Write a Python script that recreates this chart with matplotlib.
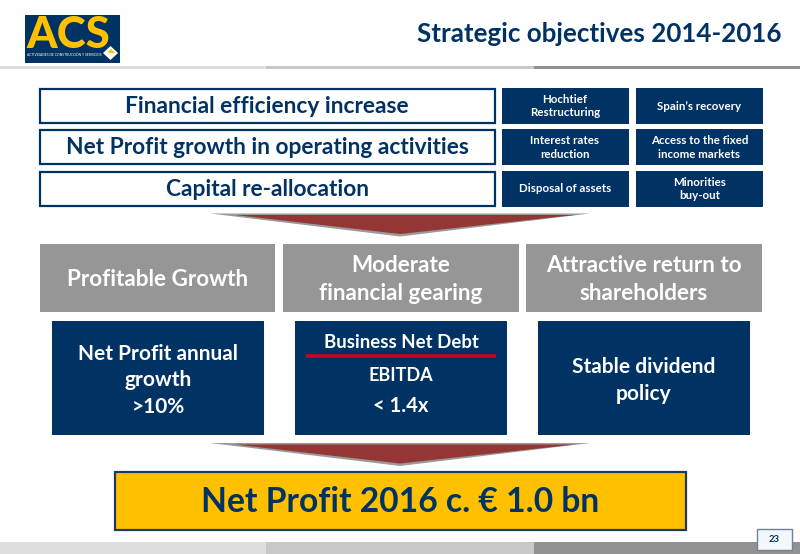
import matplotlib
matplotlib.use("Agg")
import matplotlib.pyplot as plt
from matplotlib.patches import Rectangle, Polygon

NAVY = "#003263"
GREY = "#969696"
YELLOW = "#FFC000"
RED = "#943634"
FONT = "Lato"

title = "Strategic objectives 2014-2016"
logo_name = "ACS"
logo_sub = "ACTIVIDADES DE CONSTRUCCIÓN Y SERVICIOS"
drivers = ["Financial efficiency increase",
           "Net Profit growth in operating activities",
           "Capital re-allocation"]
levers_a = ["Hochtief\nRestructuring", "Interest rates\nreduction", "Disposal of assets"]
levers_b = ["Spain’s recovery", "Access to the fixed\nincome markets", "Minorities\nbuy-out"]
pillars = ["Profitable Growth", "Moderate\nfinancial gearing", "Attractive return to\nshareholders"]
targets = ["Net Profit annual\ngrowth\n>10%", None, "Stable dividend\npolicy"]
ratio_top = "Business Net Debt"
ratio_bottom = "EBITDA"
ratio_value = "< 1.4x"
goal = "Net Profit 2016 c. € 1.0 bn"
page = "23"

fig = plt.figure(figsize=(8.0, 5.54), dpi=100, facecolor="white")
ax = fig.add_axes([0, 0, 1, 1])
ax.set_xlim(0, 800)
ax.set_ylim(554, 0)
ax.axis("off")


def box(x0, y0, x1, y1, fc, ec="none", lw=0, z=2):
    ax.add_patch(Rectangle((x0, y0), x1 - x0, y1 - y0, fc=fc, ec=ec, lw=lw, zorder=z))


def label(x, y, s, size, color=NAVY, ls=1.2, **kw):
    ax.text(x, y, s, fontsize=size, color=color, ha="center", va="center",
            family=FONT, weight="bold", linespacing=ls, zorder=5, **kw)


def arrow(x0, x1, y0, y1):
    xm = (x0 + x1) / 2
    ax.add_patch(Polygon([(x0, y0), (x1, y0), (xm, y1 + 1.5)], closed=True, fc="#9a9a9a", ec="none", zorder=2))
    ax.add_patch(Polygon([(x0 + 25, y0 + 1.5), (x1 - 15, y0 + 1.5), (xm, y1 - 1)], closed=True, fc=RED, ec="none", zorder=3))


# header and footer bands
for yy0, yy1 in [(65.5, 69), (542, 554)]:
    for xa, xb, col in [(0, 266, "#DEDEDE"), (266, 534, "#C8C8C8"), (534, 800, "#919191")]:
        box(xa, yy0, xb, yy1, col, z=1)

# logo
box(25, 15, 120, 62.5, NAVY)
ax.text(68.5, 34.5, logo_name, fontsize=31.5, color=YELLOW, ha="center", va="center",
        family=FONT, weight="black", zorder=5)
ax.text(64.5, 55, logo_sub, fontsize=2.45, color="white", ha="center", va="center", family=FONT, zorder=5)
ax.add_patch(Polygon([(110.5, 46), (118, 53), (110.5, 60), (103, 53)], closed=True, fc="white", ec="none", zorder=4))
ax.add_patch(Polygon([(108, 52), (111, 49), (115.5, 53), (110, 53)], closed=True, fc=YELLOW, ec="none", zorder=5))

label(599.5, 33.5, title, 18.7)

# driver rows
rows = [(88.5, 122.5), (130, 164), (171.5, 205.5)]
for (y0, y1), d, a, b in zip(rows, drivers, levers_a, levers_b):
    box(39.8, y0, 494.8, y1, "white", NAVY, 1.6)
    label(267, (y0 + y1) / 2 + 1, d, 16.4)
    box(501.5, y0 - 1, 628.5, y1 + 1, NAVY)
    box(636, y0 - 1, 763, y1 + 1, NAVY)
    label(565, (y0 + y1) / 2 + 0.5, a, 8.3, "white", ls=1.32)
    label(699.5, (y0 + y1) / 2 + 0.5, b, 8.3, "white", ls=1.32)

arrow(210, 590, 213.5, 235)

# pillars
for (x0, x1), p in zip([(40, 275), (283, 519), (526, 762)], pillars):
    box(x0, 244, x1, 312, GREY)
    label((x0 + x1) / 2, 279.5, p, 16.2, "white", ls=1.42)

# targets
for (x0, x1), t in zip([(52, 264), (295, 507), (538, 750)], targets):
    box(x0, 321, x1, 435, NAVY)
    if t is not None:
        label((x0 + x1) / 2, 380.5, t, 15, "white", ls=1.42)
label(401, 342, ratio_top, 13.4, "white")
ax.plot([306, 496], [356, 356], color="#D0021B", lw=2.6, zorder=5, solid_capstyle="butt")
label(401, 375.5, ratio_bottom, 13, "white")
label(401, 406, ratio_value, 14.6, "white")

arrow(210, 590, 443, 464.5)

# goal
box(115, 471.5, 685.5, 529.5, YELLOW, "#1F3A5F", 1.6)
label(400.5, 502.5, goal, 24.2)

# page number
box(756.5, 529, 792, 550, "#F4F7FA", "#6E8296", 1, z=6)
ax.text(774, 539.5, page, fontsize=6.8, color=NAVY, ha="center", va="center",
        family=FONT, weight="bold", zorder=7)

fig.savefig("out.png", dpi=100, facecolor="white")
